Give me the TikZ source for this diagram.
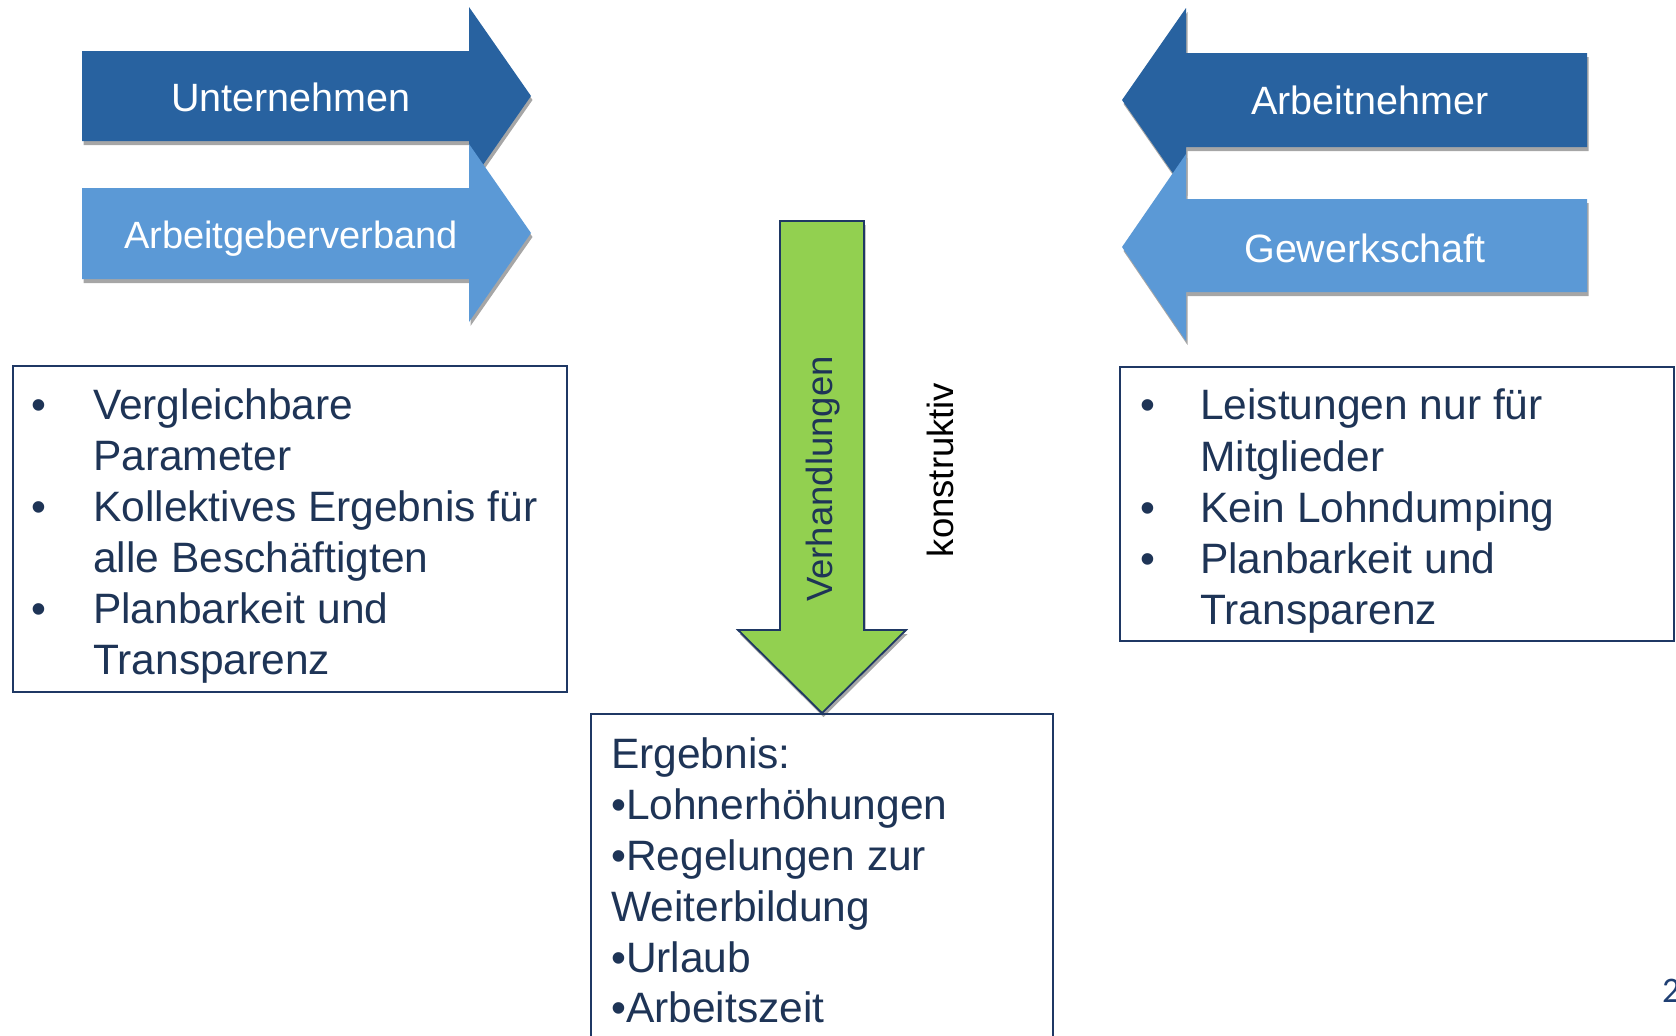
\documentclass[tikz,border=0pt]{standalone}
\usepackage{fontspec}
\setmainfont{Liberation Sans}
\newfontfamily\pagefont{Carlito}
\definecolor{darkblue}{HTML}{2862A0}
\definecolor{lightblue}{HTML}{5B99D6}
\definecolor{navy}{HTML}{1E3456}
\definecolor{boxline}{HTML}{1F3864}
\definecolor{arrowgreen}{HTML}{92D050}
\definecolor{shadowgray}{HTML}{A6A6A6}
\definecolor{pagenum}{HTML}{1F3F73}
\begin{document}
\begin{tikzpicture}[x=1pt,y=-1pt,
  arrowlabel/.style={text=white, font=\fontsize{39.5}{47}\selectfont, inner sep=0pt, anchor=base},
  boxtext/.style={text=navy, font=\fontsize{42.5}{51}\selectfont, inner sep=0pt, anchor=base west},
  infobox/.style={draw=boxline, line width=1.8pt},
  arrowshadow/.style={fill=shadowgray, shift={(1.5,4)}},
  rottext/.style={rotate=90, font=\fontsize{36.5}{44}\selectfont, inner sep=0pt}
]
\useasboundingbox (0,0) rectangle (1676,1036);
\clip (0,0) rectangle (1676,1036);

% left arrows
\fill[arrowshadow] (82,51) -- (469,51) -- (469,7) -- (531,96) -- (469,185) -- (469,141) -- (82,141) -- cycle;
\fill[darkblue] (82,51) -- (469,51) -- (469,7) -- (531,96) -- (469,185) -- (469,141) -- (82,141) -- cycle;
\fill[arrowshadow] (82,188) -- (469,188) -- (469,144) -- (531,233) -- (469,322) -- (469,279) -- (82,279) -- cycle;
\fill[lightblue] (82,188) -- (469,188) -- (469,144) -- (531,233) -- (469,322) -- (469,279) -- (82,279) -- cycle;

% right arrows
\fill[arrowshadow] (1587,53) -- (1186,53) -- (1186,8) -- (1122,100) -- (1186,192) -- (1186,147) -- (1587,147) -- cycle;
\fill[darkblue] (1587,53) -- (1186,53) -- (1186,8) -- (1122,100) -- (1186,192) -- (1186,147) -- (1587,147) -- cycle;
\fill[arrowshadow] (1587,199) -- (1186,199) -- (1186,154) -- (1122,247) -- (1186,341) -- (1186,292) -- (1587,292) -- cycle;
\fill[lightblue] (1587,199) -- (1186,199) -- (1186,154) -- (1122,247) -- (1186,341) -- (1186,292) -- (1587,292) -- cycle;

\node[arrowlabel] (unt) at (291,111.5) {Unternehmen};
\node[arrowlabel, font=\fontsize{38}{45}\selectfont] (agv) at (291,248) {Arbeitgeberverband};
\node[arrowlabel] (an) at (1370,114) {Arbeitnehmer};
\node[arrowlabel] (gew) at (1365,262) {Gewerkschaft};

% green arrow
\fill[arrowshadow] (780,221) -- (864,221) -- (864,630) -- (906,630) -- (822,713) -- (738,630) -- (780,630) -- cycle;
\filldraw[fill=arrowgreen, draw=boxline, line width=1.8pt, line join=miter] (780,221) -- (864,221) -- (864,630) -- (906,630) -- (822,713) -- (738,630) -- (780,630) -- cycle;
\node[rottext, text=navy] (verh) at (823,479) {Verhandlungen};
\node[rottext, text=black] (konst) at (940,470) {konstruktiv};

% left box
\draw[infobox] (13,366) rectangle (567,692);
\node[boxtext] (lb1) at (31,419) {•};
\node[boxtext] (l1) at (93,419) {Vergleichbare};
\node[boxtext] (l2) at (93,470) {Parameter};
\node[boxtext] (lb2) at (31,521) {•};
\node[boxtext] (l3) at (93,521) {Kollektives Ergebnis für};
\node[boxtext] (l4) at (93,572) {alle Beschäftigten};
\node[boxtext] (lb3) at (31,623) {•};
\node[boxtext] (l5) at (93,623) {Planbarkeit und};
\node[boxtext] (l6) at (93,674) {Transparenz};

% right box
\draw[infobox] (1120,367) rectangle (1674,641);
\node[boxtext] (rb1) at (1140,419) {•};
\node[boxtext] (r1) at (1200,419) {Leistungen nur für};
\node[boxtext] (r2) at (1200,471) {Mitglieder};
\node[boxtext] (rb2) at (1140,522) {•};
\node[boxtext] (r3) at (1200,522) {Kein Lohndumping};
\node[boxtext] (rb3) at (1140,573) {•};
\node[boxtext] (r4) at (1200,573) {Planbarkeit und};
\node[boxtext] (r5) at (1200,624) {Transparenz};

% bottom box
\draw[infobox] (591,714) rectangle (1053,1060);
\node[boxtext] (e0) at (611,768) {Ergebnis:};
\node[boxtext] (e1) at (611,819) {•Lohnerhöhungen};
\node[boxtext] (e2) at (611,870) {•Regelungen zur};
\node[boxtext] (e3) at (611,921) {Weiterbildung};
\node[boxtext] (e4) at (611,972) {•Urlaub};
\node[boxtext] (e5) at (611,1022) {•Arbeitszeit};

% page number
\node[text=pagenum, font=\pagefont\fontsize{36}{40}\selectfont, anchor=base west, inner sep=0pt] (pg) at (1662,1002) {2};
\end{tikzpicture}
\end{document}
